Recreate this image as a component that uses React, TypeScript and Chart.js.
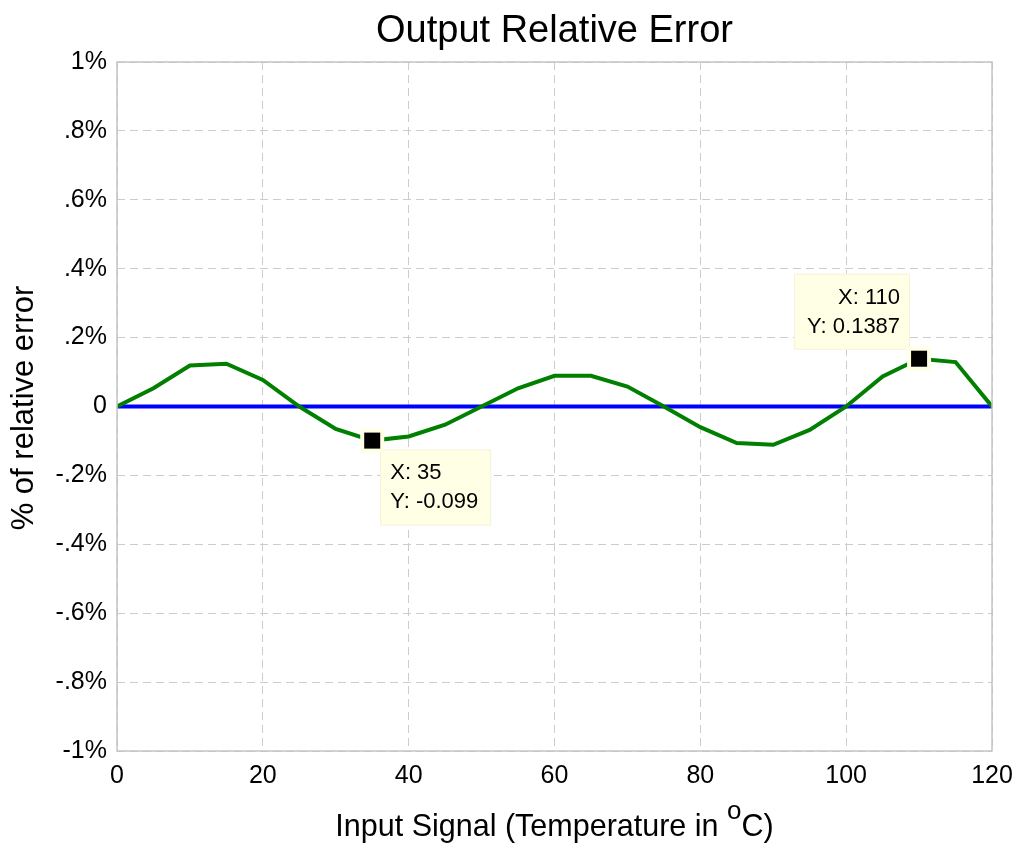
import React, { useEffect, useRef } from "react";
import { Chart, registerables } from "chart.js";

Chart.register(...registerables);

// readings of the relative error curve, every 5 degrees
const temperatures = [0, 5, 10, 15, 20, 25, 30, 35, 40, 45, 50, 55, 60, 65, 70, 75, 80, 85, 90, 95, 100, 105, 110, 115, 120];
const relativeError = [
    0, 0.053, 0.119, 0.124, 0.077, 0, -0.065, -0.099, -0.087, -0.053, 0, 0.053, 0.089, 0.089, 0.058, 0,
    -0.06, -0.106, -0.111, -0.068, 0, 0.087, 0.1387, 0.129, 0,
];
// flat reference line at zero
const zeroLineX = [0, 120];
const zeroLineY = [0, 0];
// data tips shown on the curve
const tipTemperatures = [35, 110];

const yTickLabels = ["-1%", "-.8%", "-.6%", "-.4%", "-.2%", "0", ".2%", ".4%", ".6%", ".8%", "1%"];

const FONT = "'Liberation Sans', Arial, Helvetica, sans-serif";

const decorations = {
    id: "decorations",
    afterDraw(chart: any) {
        const { ctx, chartArea: a, scales } = chart;
        ctx.save();

        // axes box
        ctx.strokeStyle = "#c4c4c4";
        ctx.lineWidth = 1.5;
        ctx.setLineDash([]);
        ctx.strokeRect(a.left, a.top, a.right - a.left, a.bottom - a.top);

        // data tips
        tipTemperatures.forEach((t) => {
            const i = temperatures.indexOf(t);
            const v = relativeError[i];
            const px = scales.x.getPixelForValue(t);
            const py = scales.y.getPixelForValue(v);
            const below = v < 0;
            const w = below ? 111 : 116;
            const h = 76;
            const bx = below ? px + 8 : px - 9 - w;
            const by = below ? py + 9 : py - 9 - h;
            ctx.fillStyle = "#ffffe6";
            ctx.fillRect(bx, by, w, h);
            ctx.strokeStyle = "#f3f3dc";
            ctx.lineWidth = 1;
            ctx.strokeRect(bx + 0.5, by + 0.5, w - 1, h - 1);
            ctx.fillStyle = "#000";
            ctx.font = `22px ${FONT}`;
            ctx.textBaseline = "alphabetic";
            if (below) {
                ctx.textAlign = "left";
                ctx.fillText(`X: ${t}`, bx + 10, by + 29);
                ctx.fillText(`Y: ${v}`, bx + 10, by + 58);
            } else {
                ctx.textAlign = "right";
                ctx.fillText(`X: ${t}`, bx + w - 10, by + 30);
                ctx.fillText(`Y: ${v}`, bx + w - 10, by + 59);
            }
            // marker
            ctx.fillStyle = "#ffffe6";
            ctx.fillRect(px - 12, py - 12, 24, 24);
            ctx.fillStyle = "#000";
            ctx.fillRect(px - 8, py - 8, 16, 16);
        });

        const cx = (a.left + a.right) / 2;
        ctx.fillStyle = "#000";
        ctx.textBaseline = "alphabetic";

        // title
        ctx.textAlign = "center";
        ctx.font = `38px ${FONT}`;
        ctx.fillText("Output Relative Error", cx, 42);

        // x axis title with superscript degree mark
        const main = "Input Signal (Temperature in ";
        const sup = "o";
        const tail = "C)";
        ctx.font = `30.5px ${FONT}`;
        const wMain = ctx.measureText(main).width;
        const wTail = ctx.measureText(tail).width;
        ctx.font = `26px ${FONT}`;
        const wSup = ctx.measureText(sup).width;
        const x0 = cx - (wMain + wSup + wTail) / 2;
        ctx.textAlign = "left";
        ctx.font = `30.5px ${FONT}`;
        ctx.fillText(main, x0, 836);
        ctx.font = `26px ${FONT}`;
        ctx.fillText(sup, x0 + wMain, 819);
        ctx.font = `30.5px ${FONT}`;
        ctx.fillText(tail, x0 + wMain + wSup, 836);

        // y axis title
        ctx.translate(33, 408);
        ctx.rotate(-Math.PI / 2);
        ctx.textAlign = "center";
        ctx.font = `31px ${FONT}`;
        ctx.fillText("% of relative error", 0, 0);

        ctx.restore();
    },
};

export default function App() {
    const canvasRef = useRef<HTMLCanvasElement | null>(null);
    const chartRef = useRef<Chart | null>(null);

    useEffect(() => {
        document.body.style.margin = "0";
        if (!canvasRef.current) return;
        const ctx = canvasRef.current.getContext("2d");
        if (!ctx) return;

        if (chartRef.current) {
            chartRef.current.destroy();
        }

        const grid = {
            color: "#cccccc",
            lineWidth: 1,
            drawTicks: false,
        };

        chartRef.current = new Chart(ctx, {
            type: "line",
            data: {
                datasets: [
                    {
                        label: "relative error",
                        data: temperatures.map((t, i) => ({ x: t, y: relativeError[i] })),
                        borderColor: "#007f00",
                        borderWidth: 4,
                        pointRadius: 0,
                        tension: 0,
                        fill: false,
                    },
                    {
                        label: "zero",
                        data: zeroLineX.map((t, i) => ({ x: t, y: zeroLineY[i] })),
                        borderColor: "#0000ff",
                        borderWidth: 4,
                        pointRadius: 0,
                        fill: false,
                    },
                ],
            },
            options: {
                animation: false,
                responsive: false,
                maintainAspectRatio: false,
                layout: {
                    padding: { top: 62, right: 32, left: 0, bottom: 0 },
                },
                plugins: {
                    legend: { display: false },
                    tooltip: { enabled: false },
                    title: { display: false },
                },
                scales: {
                    x: {
                        type: "linear",
                        min: 0,
                        max: 120,
                        border: { display: false, dash: [8, 5] },
                        grid: grid,
                        ticks: {
                            stepSize: 20,
                            color: "#000",
                            padding: 10,
                            font: { family: FONT, size: 25 },
                            maxRotation: 0,
                        },
                        afterFit: (scale: any) => {
                            scale.height = 97;
                        },
                    },
                    y: {
                        min: -1,
                        max: 1,
                        border: { display: false, dash: [8, 5] },
                        grid: grid,
                        ticks: {
                            stepSize: 0.2,
                            color: "#000",
                            padding: 10,
                            font: { family: FONT, size: 25 },
                            callback: (_v: any, i: number) => yTickLabels[i],
                        },
                        afterFit: (scale: any) => {
                            scale.width = 117;
                        },
                    },
                },
            },
            plugins: [decorations],
        });

        return () => {
            chartRef.current?.destroy();
        };
    }, []);

    return (
        <div style={{ position: "absolute", left: 0, top: 0, width: 1024, height: 848, background: "#fff" }}>
            <canvas ref={canvasRef} width={1024} height={848} style={{ width: 1024, height: 848 }}></canvas>
        </div>
    );
}
